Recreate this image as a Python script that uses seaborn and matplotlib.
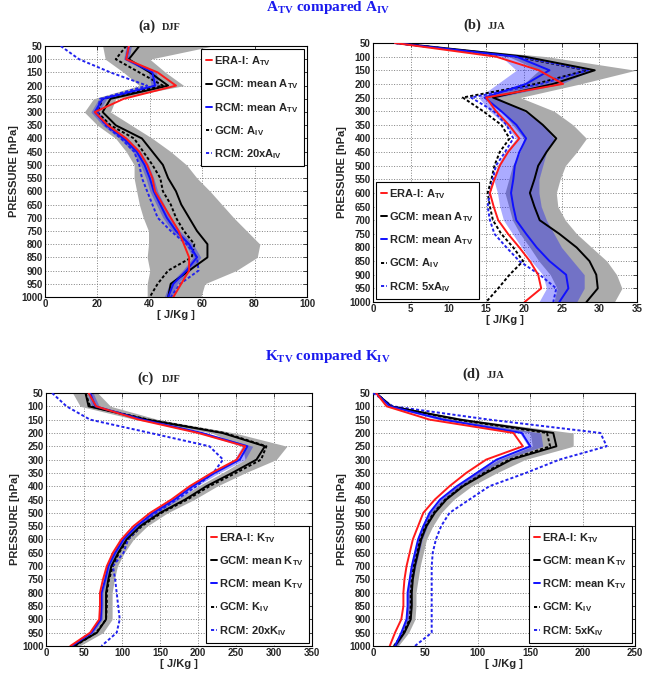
import numpy as np
import pandas as pd
import matplotlib
matplotlib.use("Agg")
import matplotlib.pyplot as plt
import seaborn as sns

sns.set_style("white")
plt.rcParams['font.family'] = ['Liberation Sans', 'DejaVu Sans']
plt.rcParams['font.weight'] = 'bold'
plt.rcParams['mathtext.fontset'] = 'custom'
plt.rcParams['mathtext.rm'] = 'Liberation Sans:bold'
plt.rcParams['mathtext.it'] = 'Liberation Sans:bold'
plt.rcParams['mathtext.bf'] = 'Liberation Sans:bold'
plt.rcParams['mathtext.sf'] = 'Liberation Serif:bold'
plt.rcParams['mathtext.default'] = 'rm'

pressure = [50, 100, 150, 200, 250, 300, 350, 400, 450, 500, 550,
            600, 650, 700, 750, 800, 850, 900, 950, 1000]

# ---- Panel (a) A DJF ----
a_era = [32, 31, 43, 50, 30, 19, 24, 31, 36, 39, 41, 42, 45, 48, 51, 53, 55, 55, 52, 49]
a_gcm = [36, 32, 40, 47, 25, 22, 27, 37, 41, 45, 47, 50, 52, 55, 58, 62, 62, 55, 48, 47]
a_rcm = [32, 31, 41, 42, 22, 19, 23.5, 30, 35, 38, 40, 41.5, 44, 46.5, 50, 55, 58, 54, 49, 47]
a_gcm_iv = [31, 27, 36, 45, 22, 20, 25, 34, 37.5, 41, 44, 45, 48, 50, 53, 57, 56, 47, 43, 40]
a_rcm_iv = [6, 13, 25, 39, 21, 20, 23, 29, 34, 36, 37, 39, 41, 43, 48, 54, 58, 58.6, 51.6, 48]
a_gray_lo = [22, 23, 30, 36, 18.5, 15, 20, 27, 31, 34, 34, 35, 36, 37.5, 39.5, 39.5, 39, 40, 39, 39]
a_gray_hi = [64, 40, 46, 53, 27, 25, 33, 41, 48, 54, 58, 63, 67.5, 72, 77, 82, 81, 73, 61, 59.5]
a_blue_lo = [31, 30, 39.5, 40.5, 20.5, 17.5, 22, 28.5, 33.5, 36.5, 38.5, 40, 42.5, 45, 48.5, 53.5, 56.5, 52.5, 47.5, 45.5]
a_blue_hi = [33, 32, 42.5, 43.5, 23.5, 20.5, 25, 31.5, 36.5, 39.5, 41.5, 43, 45.5, 48, 51.5, 56.5, 59.5, 55.5, 50.5, 48.5]

# ---- Panel (b) A JJA ----
b_era = [2.9, 16.3, 22, 25.2, 15, 16.3, 18, 19.4, 17.9, 16.8, 16.1, 15.5, 16, 16.6, 17.9, 19.4, 20.8, 21.9, 22.3, 20.1]
b_gcm = [3.1, 20.1, 29.4, 23.9, 15.9, 20.3, 22.5, 24.3, 23, 21.9, 21.4, 20.8, 21.4, 22.1, 24.7, 27, 28.7, 29.6, 29.8, 28.3]
b_rcm = [2.9, 19, 23.4, 20.3, 14.8, 17, 19, 20.3, 19.4, 18.8, 18.6, 18.3, 18.6, 19, 20.3, 21.7, 23.4, 25.6, 25.9, 24.7]
b_gcm_iv = [2.9, 19, 28.3, 21.6, 11.9, 14.6, 17, 18.1, 16.8, 16.1, 15.7, 15.2, 15.5, 15.9, 17, 18.6, 19.9, 18.1, 16.6, 15]
b_rcm_iv = [2.9, 19.4, 28.5, 22.3, 13, 16, 17.7, 18.6, 17.5, 16.3, 15.9, 15.5, 15.2, 15.5, 16.1, 17.7, 19.4, 22.1, 24.3, 23.9]
b_gray_lo = [2.5, 18, 22, 20, 15, 17, 18.5, 20, 19.5, 18.5, 18, 17.5, 18, 18.5, 19.5, 20.8, 22, 23.5, 24.4, 24]
b_gray_hi = [3.5, 23, 34.8, 27.5, 19.5, 24, 26.5, 28.3, 27, 25.5, 24.8, 24.3, 24.5, 25.5, 27, 29, 31, 32.3, 33, 32]
b_blue_lo = [2.7, 17, 19, 16.5, 14, 15.5, 17.5, 19, 17.5, 16.5, 16, 16.5, 16.8, 17.3, 18.5, 19.7, 21, 22.5, 23, 22]
b_blue_hi = [3.2, 21, 29, 25, 16.5, 20, 22.5, 24, 23, 22.5, 22, 22, 22.3, 23, 24, 25, 26.5, 28, 28, 27]

# ---- Panel (c) K DJF ----
c_era = [56, 66, 122, 200, 262, 251, 218, 189, 165, 137, 115, 99, 88, 80, 75, 71, 71, 70, 58, 32]
c_gcm = [52, 56, 133, 232, 288, 277, 245, 211, 183, 150, 124, 106, 95, 86, 82, 79, 79, 79, 67, 36]
c_rcm = [58, 65, 127, 205, 265, 255, 222, 193, 169, 141, 119, 102, 91, 82, 78, 73, 73, 72, 60, 34]
c_gcm_iv = [52, 58, 135, 235, 290, 283, 250, 215, 186, 152, 126, 108, 96, 88, 83, 80, 80, 79, 66, 38]
c_rcm_iv = [8, 27, 58, 137, 215, 233, 220, 198, 172, 145, 124, 108, 102, 88, 91, 93, 95, 97, 93, 73]
c_gray_lo = [35, 45, 118, 218, 258, 262, 232, 200, 172, 140, 115, 98, 87, 79, 75, 72, 72, 72, 60, 30]
c_gray_hi = [68, 85, 148, 248, 317, 303, 262, 225, 195, 160, 133, 115, 103, 94, 90, 87, 87, 87, 75, 44]
c_blue_lo = [54, 60, 122, 200, 258, 248, 216, 188, 164, 137, 116, 99, 88, 80, 76, 71, 71, 70, 58, 32]
c_blue_hi = [62, 70, 132, 210, 272, 262, 228, 198, 174, 145, 122, 105, 94, 85, 80, 75, 75, 74, 62, 36]

# ---- Panel (d) K JJA ----
d_era = [3, 13, 54, 134, 143, 108, 89, 73, 59, 48, 43, 38, 35, 32, 30, 29, 29, 27, 21, 16]
d_gcm = [3, 17, 83, 172, 175, 132, 108, 86, 70, 59, 51, 46, 43, 40, 38, 37, 37, 36, 30, 21]
d_rcm = [3, 16, 67, 142, 150, 118, 99, 80, 64, 54, 48, 43, 40, 37, 35, 33, 33, 32, 27, 21]
d_gcm_iv = [3, 17, 80, 166, 169, 130, 106, 85, 69, 58, 50, 45, 42, 39, 37, 36, 36, 35, 29, 20]
d_rcm_iv = [0, 19, 111, 217, 223, 178, 146, 111, 92, 73, 65, 60, 57, 56, 56, 56, 56, 56, 56, 40]
d_gray_lo = [3, 14, 72, 150, 152, 120, 98, 80, 65, 54, 47, 42, 39, 36, 34, 33, 33, 32, 27, 18]
d_gray_hi = [4, 20, 92, 191, 191, 145, 118, 94, 77, 65, 57, 51, 48, 45, 43, 41, 41, 40, 34, 24]
d_blue_lo = [3, 15, 62, 140, 148, 115, 97, 78, 63, 53, 47, 42, 39, 36, 34, 32, 32, 31, 26, 19]
d_blue_hi = [3.5, 18, 75, 160, 162, 125, 104, 85, 68, 58, 52, 47, 44, 41, 38, 37, 37, 36, 30, 23]

W, H = 651, 680
fig = plt.figure(figsize=(W / 100, H / 100), dpi=100)


def box(l, t, r, b):
    return [l / W, 1 - b / H, (r - l) / W, (b - t) / H]


GRAY = '#ababab'
DOT = (0, (1.6, 1.1))


def panel(rect, name, sub, series, gray, blue, xlim, xticks, leg_loc):
    ax = fig.add_axes(box(*rect))
    ax.fill_betweenx(pressure, gray[0], gray[1], color=GRAY, lw=0, zorder=1)
    ax.fill_betweenx(pressure, blue[0], blue[1], color='#0000ff', alpha=0.33, lw=0, zorder=2)
    era, gcm, rcm, gcm_iv, rcm_iv = series
    sym = name
    specs = [
        (gcm_iv, 'black', DOT, 'GCM: %s$_{IV}$' % sym),
        (rcm_iv, '#2222ee', DOT, 'RCM: %s%s$_{IV}$' % (sub, sym)),
        (gcm, 'black', '-', 'GCM: mean %s$_{TV}$' % sym),
        (rcm, '#1010ff', '-', 'RCM: mean %s$_{TV}$' % sym),
        (era, '#ff1a1a', '-', 'ERA-I: %s$_{TV}$' % sym),
    ]
    for vals, col, ls, lab in specs:
        sns.lineplot(x=vals, y=pressure, ax=ax, color=col, linestyle=ls, lw=1.4,
                     label=lab, estimator=None, sort=False, orient='y', zorder=3)
    ax.set_xlim(*xlim)
    ax.set_ylim(1000, 50)
    ax.set_xticks(xticks)
    ax.set_yticks(pressure)
    ax.grid(True, linestyle=':', color='0.5', linewidth=0.7, zorder=0)
    ax.set_axisbelow(True)
    for s in ax.spines.values():
        s.set_color('black')
        s.set_linewidth(0.8)
    ax.tick_params(direction='in', length=3, width=0.6, labelsize=7, pad=1.5,
                   top=True, right=True)
    for lab in ax.get_xticklabels() + ax.get_yticklabels():
        lab.set_fontweight('bold')
    ax.set_ylabel('PRESSURE [hPa]', fontsize=8, fontweight='bold', labelpad=2)
    ax.set_xlabel('[ J/Kg ]', fontsize=8, fontweight='bold', labelpad=1)
    h, l = ax.get_legend_handles_labels()
    order = [4, 2, 3, 0, 1]
    leg = ax.legend([h[i] for i in order], [l[i] for i in order], loc=leg_loc,
                    handlelength=0.55, handletextpad=0.15, labelspacing=0.85,
                    borderpad=0.45, frameon=True, fancybox=False, framealpha=1,
                    borderaxespad=0.3,
                    prop={'family': 'Liberation Sans', 'weight': 'bold', 'size': 8})
    leg.get_frame().set_edgecolor('black')
    leg.get_frame().set_linewidth(0.8)
    return ax


panel((45, 46, 307, 297), 'A', '20x', (a_era, a_gcm, a_rcm, a_gcm_iv, a_rcm_iv),
      (a_gray_lo, a_gray_hi), (a_blue_lo, a_blue_hi), (0, 100), [0, 20, 40, 60, 80, 100],
      'upper right')
panel((373, 43, 637, 302), 'A', '5x', (b_era, b_gcm, b_rcm, b_gcm_iv, b_rcm_iv),
      (b_gray_lo, b_gray_hi), (b_blue_lo, b_blue_hi), (0, 35), [0, 5, 10, 15, 20, 25, 30, 35],
      'lower left')
panel((46, 393, 312, 646), 'K', '20x', (c_era, c_gcm, c_rcm, c_gcm_iv, c_rcm_iv),
      (c_gray_lo, c_gray_hi), (c_blue_lo, c_blue_hi), (0, 350), [0, 50, 100, 150, 200, 250, 300, 350],
      'lower right')
panel((373, 393, 635, 646), 'K', '5x', (d_era, d_gcm, d_rcm, d_gcm_iv, d_rcm_iv),
      (d_gray_lo, d_gray_hi), (d_blue_lo, d_blue_hi), (0, 250), [0, 50, 100, 150, 200, 250],
      'lower right')

serif = ['Liberation Serif', 'DejaVu Serif']


def ftext(x, y, s, **kw):
    fig.text(x / W, 1 - y / H, s, **kw)


# super titles
ftext(328, 11, r'$\mathsf{A_{TV}}$ compared $\mathsf{A_{IV}}$', ha='center', va='baseline',
      color='#1a1aee', fontsize=11, fontweight='bold', family=serif)
ftext(328, 360, r'$\mathsf{K_{TV}}$ compared $\mathsf{K_{IV}}$', ha='center', va='baseline',
      color='#1a1aee', fontsize=11, fontweight='bold', family=serif)

# panel titles
for (x1, x2, yb, lab, season) in [(138, 162, 30, '(a)', 'DJF'), (463, 488, 29, '(b)', 'JJA'),
                                  (137, 162, 382, '(c)', 'DJF'), (462, 487, 378, '(d)', 'JJA')]:
    ftext(x1, yb, lab, ha='left', va='baseline', fontsize=10.5, fontweight='bold', family=serif)
    ftext(x2, yb, season, ha='left', va='baseline', fontsize=7.5, fontweight='bold', family=serif)

fig.savefig('out.png', dpi=100)
